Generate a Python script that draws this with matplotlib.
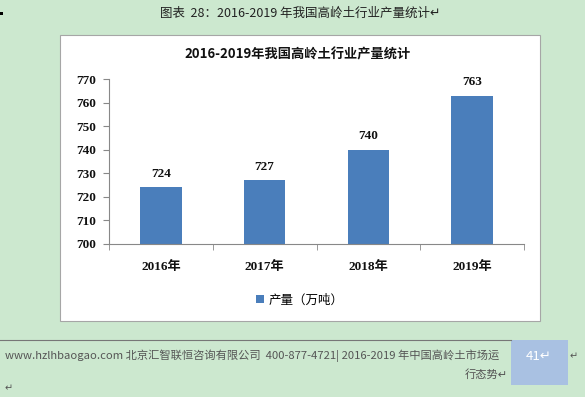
import matplotlib
matplotlib.use("Agg")
import matplotlib.pyplot as plt
from matplotlib.patches import Rectangle

plt.rcParams['font.family'] = ['Noto Sans CJK SC', 'DejaVu Sans']

categories = ["2016年", "2017年", "2018年", "2019年"]
values = [724, 727, 740, 763]
yticks = [700, 710, 720, 730, 740, 750, 760, 770]
series_name = "产量（万吨）"
chart_title = "2016-2019年我国高岭土行业产量统计"
caption = "图表  28：2016-2019 年我国高岭土行业产量统计↵"
footer1 = "www.hzlhbaogao.com 北京汇智联恒咨询有限公司  400-877-4721| 2016-2019 年中国高岭土市场运"
footer2 = "行态势↵"
page_no = "41↵"

W, H = 585, 397
bg = "#cce8cf"
bar_color = "#4a7ebb"
serif = ['Liberation Serif', 'Noto Sans CJK SC']

fig = plt.figure(figsize=(W / 100, H / 100), dpi=100)
fig.patch.set_facecolor(bg)

def fx(x):
    return x / W

def fy(y):
    return 1 - y / H

# white chart box
fig.patches.append(Rectangle((fx(60), fy(321)), fx(540) - fx(60), fy(35) - fy(321),
                             transform=fig.transFigure, facecolor="white",
                             edgecolor="#a6a6a6", linewidth=0.8, zorder=-5))

# caption
fig.text(fx(300), fy(13), caption, ha="center", va="center", fontsize=9, color="#222222")
fig.patches.append(Rectangle((0, fy(15)), fx(3), 3 / H, transform=fig.transFigure,
                             facecolor="black", edgecolor="none"))

# chart title
fig.text(fx(298), fy(54), chart_title, ha="center", va="center", fontsize=9.5,
         fontweight="bold", color="#111111")

ax = fig.add_axes([fx(109), fy(244), fx(524) - fx(109), fy(79) - fy(244)])
ax.set_zorder(2)
ax.set_facecolor("white")
x = list(range(len(categories)))
bars = ax.bar(x, values, width=0.4, color=bar_color, label=series_name, zorder=2)
ax.set_xlim(-0.5, len(categories) - 0.5)
ax.set_ylim(700, 770)
ax.set_yticks(yticks)
ax.set_yticklabels([str(t) for t in yticks], fontsize=9.5, fontweight="bold",
                   family=serif, color="#111111")
ax.set_xticks(x)
ax.set_xticklabels(categories, fontsize=9.5, fontweight="bold", family=serif,
                   color="#111111")
ax.set_xticks([i - 0.5 for i in range(len(categories) + 1)], minor=True)
ax.tick_params(axis="x", which="major", length=0, pad=12)
ax.tick_params(axis="x", which="minor", length=4, color="#888888", direction="out")
ax.tick_params(axis="y", length=4, color="#888888", direction="out", pad=5.5)
for s in ["top", "right"]:
    ax.spines[s].set_visible(False)
for s in ["left", "bottom"]:
    ax.spines[s].set_color("#888888")
    ax.spines[s].set_linewidth(0.8)

for xi, v in zip(x, values):
    ax.annotate(str(v), (xi, v), xytext=(0, 5.5), textcoords="offset points",
                ha="center", va="bottom", fontsize=9.5, fontweight="bold",
                family=serif, color="#111111")

leg = ax.legend(loc="center", bbox_to_anchor=(fx(300), fy(300)),
                bbox_transform=fig.transFigure, frameon=False, fontsize=9,
                handlelength=0.6, handleheight=0.6, handletextpad=0.4)

# footer
fig.add_artist(plt.Line2D([0, fx(511)], [fy(340), fy(340)], transform=fig.transFigure,
                          color="#777777", linewidth=0.8))
fig.patches.append(Rectangle((fx(511), fy(385)), fx(568) - fx(511), fy(340) - fy(385),
                             transform=fig.transFigure, facecolor="#a9c1e2",
                             edgecolor="none"))
fig.text(fx(539), fy(356), page_no, ha="center", va="center", fontsize=9.5, color="white")
fig.text(fx(574), fy(356), "↵", ha="center", va="center", fontsize=7, color="#555555",
         family=['DejaVu Sans'])
fig.text(fx(5), fy(356), footer1, ha="left", va="center", fontsize=8.1, color="#555555")
fig.text(fx(508), fy(374), footer2, ha="right", va="center", fontsize=8.1, color="#555555")
fig.text(fx(9), fy(388), "↵", ha="center", va="center", fontsize=7, color="#555555",
         family=['DejaVu Sans'])

fig.savefig("out.png", dpi=100, facecolor=bg)
